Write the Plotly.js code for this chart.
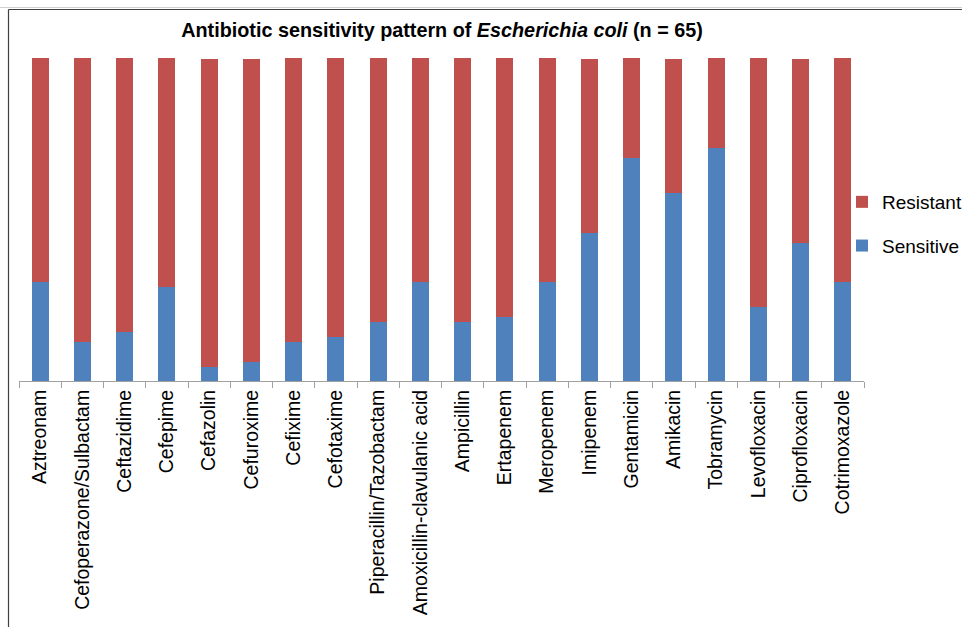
<!DOCTYPE html>
<html>
<head>
<meta charset="utf-8">
<script src="https://cdn.plot.ly/plotly-3.0.1.min.js"></script>
<style>
html,body{margin:0;padding:0;background:#fff;}
#chart{width:962px;height:627px;}
</style>
</head>
<body>
<div id="chart"></div>
<script>
const categories = ["Aztreonam","Cefoperazone/Sulbactam","Ceftazidime","Cefepime","Cefazolin","Cefuroxime","Cefixime","Cefotaxime","Piperacillin/Tazobactam","Amoxicillin-clavulanic acid","Ampicillin","Ertapenem","Meropenem","Imipenem","Gentamicin","Amikacin","Tobramycin","Levofloxacin","Ciprofloxacin","Cotrimoxazole"];
const sensitive = [30.7, 12.1, 15.2, 29.0, 4.3, 5.9, 12.1, 13.5, 18.3, 30.7, 18.3, 19.7, 30.7, 45.7, 69.0, 58.1, 72.1, 22.8, 42.6, 30.7];
const resistant = [69.3, 87.9, 84.8, 71.0, 95.4, 93.8, 87.9, 86.5, 81.7, 69.3, 81.7, 80.3, 69.3, 54.0, 31.0, 41.6, 27.9, 77.2, 57.1, 69.3];

const FONT = "Arial, 'Liberation Sans', sans-serif";

const traces = [
  {type:'bar', name:'Sensitive', x:categories, y:sensitive, marker:{color:'#4F81BD'}, legendgroup:'s', legendrank:2, hoverinfo:'x+y+name'},
  {type:'bar', name:'Resistant', x:categories, y:resistant, marker:{color:'#C0504D'}, legendgroup:'r', legendrank:1, hoverinfo:'x+y+name'}
];

// plot area in px: left 19, right 864, top 58, bottom 381
const L=19, R=864, T=58, B=381, W=962, H=627;
const px = v => (v - L)/(R - L);
const py = v => (B - v)/(B - T);

const layout = {
  width:W, height:H,
  margin:{l:L, r:W-R, t:T, b:H-B, pad:0, autoexpand:false},
  paper_bgcolor:'#ffffff', plot_bgcolor:'#ffffff',
  barmode:'stack', bargap:0.6,
  font:{family:FONT, color:'#000000', size:19.5},
  title:{text:'<b>Antibiotic sensitivity pattern of <i>Escherichia coli</i> (n = 65)</b>',
         font:{family:FONT, size:19.8, color:'#000000'},
         x:442/W, xref:'container', xanchor:'center',
         y:1-30/H, yref:'container', yanchor:'middle'},
  xaxis:{type:'category', showline:true, linecolor:'#A0A0A0', linewidth:1,
         ticks:'outside', tickson:'boundaries', ticklen:6, tickcolor:'#A0A0A0', tickwidth:1,
         tickangle:-90, tickfont:{family:FONT, size:19.5, color:'#000000'},
         showgrid:false, zeroline:false, fixedrange:true, automargin:false},
  yaxis:{range:[0,100], visible:false, showgrid:false, zeroline:false, fixedrange:true},
  showlegend:true,
  legend:{traceorder:'grouped', tracegroupgap:16,
          xref:'container', yref:'container',
          x:842/W, xanchor:'left', y:1-183/H, yanchor:'top',
          font:{family:FONT, size:19, color:'#000000'}, bgcolor:'rgba(0,0,0,0)'},
  shapes:[
    {type:'line', xref:'paper', yref:'paper', x0:px(0), x1:px(W), y0:py(7.5), y1:py(7.5), line:{color:'#D0D0D0', width:1}},
    {type:'line', xref:'paper', yref:'paper', x0:px(8.5), x1:px(W), y0:py(9.5), y1:py(9.5), line:{color:'#404040', width:1.2}},
    {type:'line', xref:'paper', yref:'paper', x0:px(8.5), x1:px(8.5), y0:py(9.5), y1:py(H), line:{color:'#404040', width:1.2}}
  ]
};

Plotly.newPlot('chart', traces, layout, {displayModeBar:false, staticPlot:true});
</script>
</body>
</html>
